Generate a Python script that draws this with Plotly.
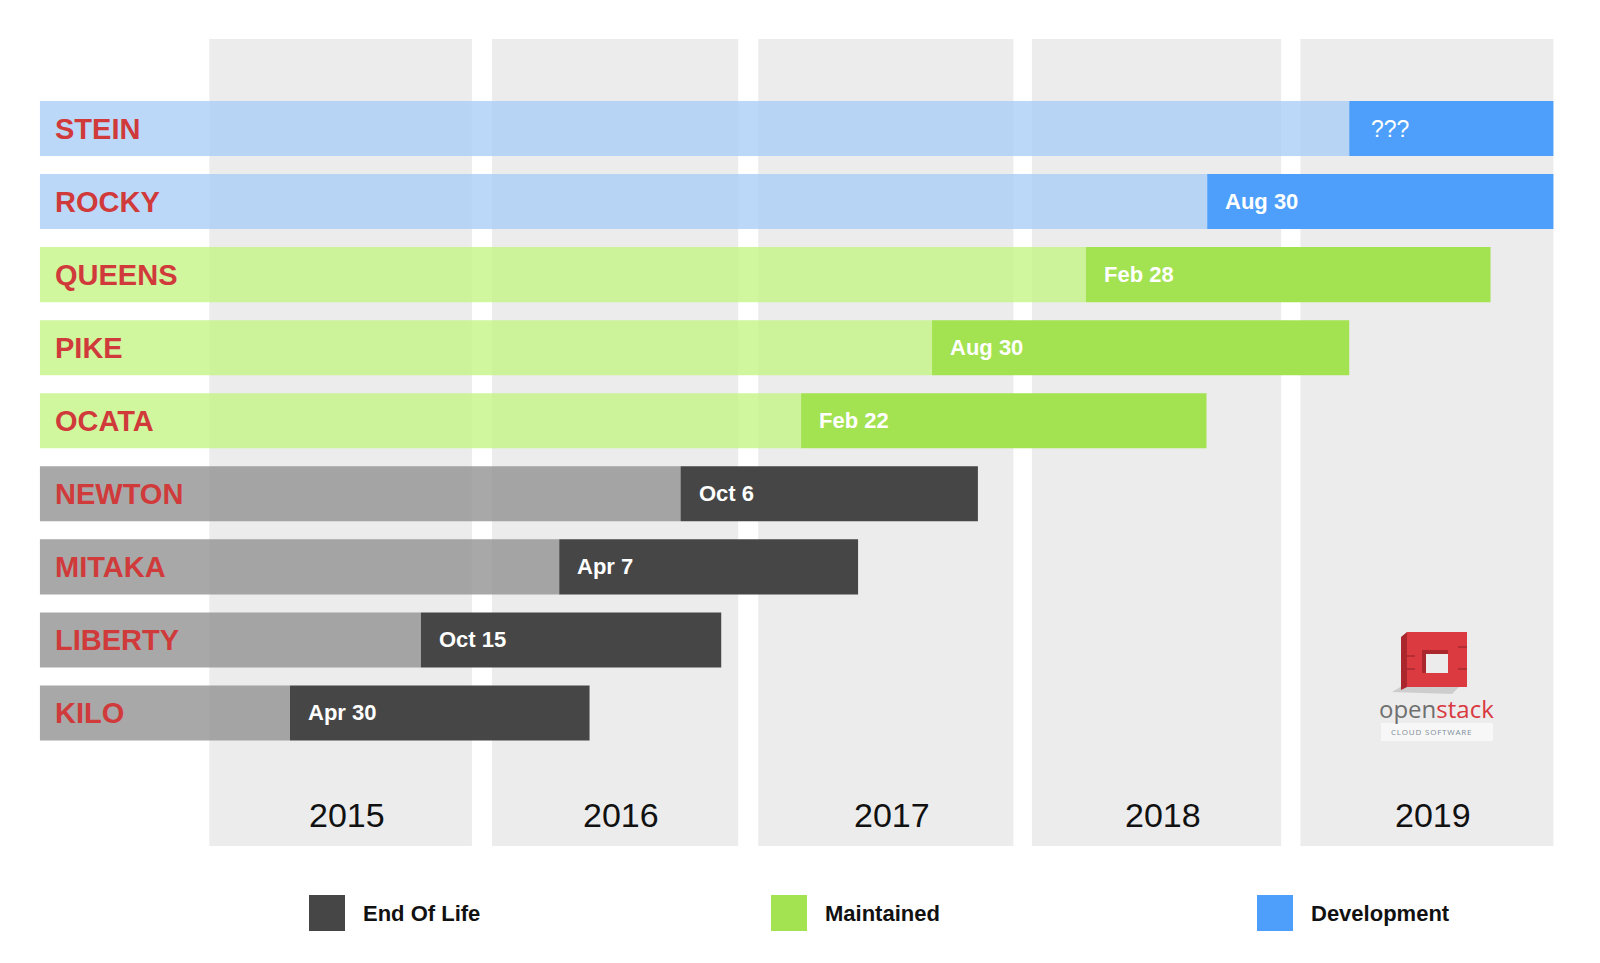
import pandas as pd
import plotly.graph_objects as go

# ---------------- data ----------------
releases = ["KILO", "LIBERTY", "MITAKA", "NEWTON", "OCATA", "PIKE", "QUEENS", "ROCKY", "STEIN"]
status = ["End Of Life"] * 4 + ["Maintained"] * 3 + ["Development"] * 2
timeline_start = "2014-05-13"
release_dates = ["2015-04-16", "2015-10-10", "2016-04-14", "2016-09-25", "2017-03-07",
                 "2017-08-31", "2018-03-27", "2018-09-07", "2019-03-18"]
end_dates = ["2016-05-25", "2016-11-19", "2017-05-23", "2017-11-01", "2018-09-06",
             "2019-03-18", "2019-09-25", "2019-12-19", "2019-12-19"]
release_labels = ["Apr 30", "Oct 15", "Apr 7", "Oct 6", "Feb 22", "Aug 30", "Feb 28", "Aug 30", "???"]

year_labels = ["2015", "2016", "2017", "2018", "2019"]
year_col_start = ["2014-12-28", "2016-01-14", "2017-01-08", "2018-01-13", "2019-01-11"]
year_col_end = ["2015-12-18", "2016-12-12", "2017-12-19", "2018-12-16", "2019-12-19"]

legend_items = ["End Of Life", "Maintained", "Development"]

# ---------------- styles ----------------
W, H = 1600, 963
dark_col = {"End Of Life": "#464646", "Maintained": "#a3e250", "Development": "#4d9ffb"}
light_col = {"End Of Life": "rgba(146,146,146,0.8)",
             "Maintained": "rgba(196,245,134,0.8)",
             "Development": "rgba(171,206,246,0.8)"}
name_red = "#d03a3a"
FONT = "Liberation Sans, Arial, sans-serif"
BAR_W = 0.753


def px_x(p):
    return p / W


def px_y(p):
    return 1 - p / H


def ms(a, b):
    return (pd.to_datetime(b) - pd.to_datetime(a)).total_seconds() * 1000.0


fig = go.Figure()

for st in legend_items:
    idx = [i for i, s in enumerate(status) if s == st]
    names = [releases[i] for i in idx]
    fig.add_trace(go.Bar(
        orientation="h", y=names,
        base=[timeline_start] * len(idx),
        x=[ms(timeline_start, release_dates[i]) for i in idx],
        width=BAR_W, marker=dict(color=light_col[st], line=dict(width=0)),
        showlegend=False, hoverinfo="skip"))
    fig.add_trace(go.Bar(
        orientation="h", y=names,
        base=[release_dates[i] for i in idx],
        x=[ms(release_dates[i], end_dates[i]) for i in idx],
        width=BAR_W, marker=dict(color=dark_col[st], line=dict(width=0)),
        showlegend=False, hoverinfo="skip"))

shapes = []
annotations = []

# year columns
for lab, s, e in zip(year_labels, year_col_start, year_col_end):
    shapes.append(dict(type="rect", xref="x", yref="paper", x0=s, x1=e,
                       y0=px_y(846), y1=px_y(39), fillcolor="#ececec",
                       line=dict(width=0), layer="below"))
    mid = pd.to_datetime(s) + (pd.to_datetime(e) - pd.to_datetime(s)) / 2
    annotations.append(dict(x=mid.strftime("%Y-%m-%d %H:%M"), y=px_y(815), xref="x", yref="paper",
                            text=lab, showarrow=False, xanchor="center", yanchor="middle", xshift=6,
                            font=dict(family=FONT, size=34, color="#111111")))

# release names and dates
for i, r in enumerate(releases):
    annotations.append(dict(x=timeline_start, y=r, xref="x", yref="y", text="<b>%s</b>" % r,
                            showarrow=False, xanchor="left", yanchor="middle", xshift=13,
                            font=dict(family=FONT, size=29, color=name_red)))
    lbl = release_labels[i]
    txt = lbl if lbl == "???" else "<b>%s</b>" % lbl
    annotations.append(dict(x=release_dates[i], y=r, xref="x", yref="y", text=txt,
                            showarrow=False, xanchor="left", yanchor="middle",
                            xshift=20 if lbl == "???" else 16,
                            font=dict(family=FONT, size=23 if lbl == "???" else 22, color="white")))

# legend
leg_x = [309, 771, 1257]
for lab, lx in zip(legend_items, leg_x):
    shapes.append(dict(type="rect", xref="paper", yref="paper", x0=px_x(lx), x1=px_x(lx + 36),
                       y0=px_y(931), y1=px_y(895), fillcolor=dark_col[lab], line=dict(width=0)))
    annotations.append(dict(x=px_x(lx + 52), y=px_y(913), xref="paper", yref="paper",
                            text="<b>%s</b>" % lab, showarrow=False, xanchor="left", yanchor="middle",
                            font=dict(family=FONT, size=22, color="#111111")))

# openstack logo (decoration)
def prect(x0, y0, x1, y1, color):
    shapes.append(dict(type="rect", xref="paper", yref="paper", x0=px_x(x0), x1=px_x(x1),
                       y0=px_y(y1), y1=px_y(y0), fillcolor=color, line=dict(width=0)))


def ppath(pts, color):
    d = "M " + " L ".join("%f,%f" % (px_x(a), px_y(b)) for a, b in pts) + " Z"
    shapes.append(dict(type="path", xref="paper", yref="paper", path=d, fillcolor=color,
                       line=dict(width=0)))


ppath([(1392, 692), (1402, 686), (1460, 686), (1452, 694)], "rgba(150,150,150,0.35)")
ppath([(1401, 637), (1407, 632), (1407, 687), (1401, 690)], "#a9272d")
prect(1407, 632, 1467, 687, "#da3a40")
prect(1422, 650, 1448, 673, "#ececec")
ppath([(1422, 650), (1448, 650), (1448, 654), (1426, 654), (1426, 673), (1422, 673)], "#a9272d")
prect(1407, 655, 1415, 657, "#b52e33")
prect(1407, 668, 1415, 670, "#b52e33")
prect(1458, 646, 1467, 648, "#b52e33")
prect(1458, 668, 1467, 670, "#b52e33")
prect(1381, 723, 1493, 741, "rgba(255,255,255,0.6)")
annotations.append(dict(x=px_x(1436), y=px_y(708), xref="paper", yref="paper",
                        text="<span style='color:#6f6f6f'>open</span><span style='color:#d9383f'>stack</span>",
                        showarrow=False, xanchor="center", yanchor="middle",
                        font=dict(family="Open Sans, sans-serif", size=24)))
annotations.append(dict(x=px_x(1431), y=px_y(731), xref="paper", yref="paper",
                        text="\u200a".join("CLOUD SOFTWARE"), showarrow=False,
                        xanchor="center", yanchor="middle",
                        font=dict(family="Open Sans, sans-serif", size=8, color="#7d8c99")))

fig.update_layout(
    width=W, height=H, margin=dict(l=0, r=0, t=0, b=0),
    paper_bgcolor="white", plot_bgcolor="rgba(0,0,0,0)",
    barmode="overlay", showlegend=False,
    shapes=shapes, annotations=annotations,
    xaxis=dict(type="date", range=["2014-03-20", "2020-02-20"], visible=False, fixedrange=True),
    yaxis=dict(type="category", categoryorder="array", categoryarray=releases,
               range=[-3.422, 9.759], visible=False, fixedrange=True),
)

fig.write_html("out.html", config={"displayModeBar": False},
               post_script="document.body.style.margin='0';document.body.style.overflow='hidden';")
